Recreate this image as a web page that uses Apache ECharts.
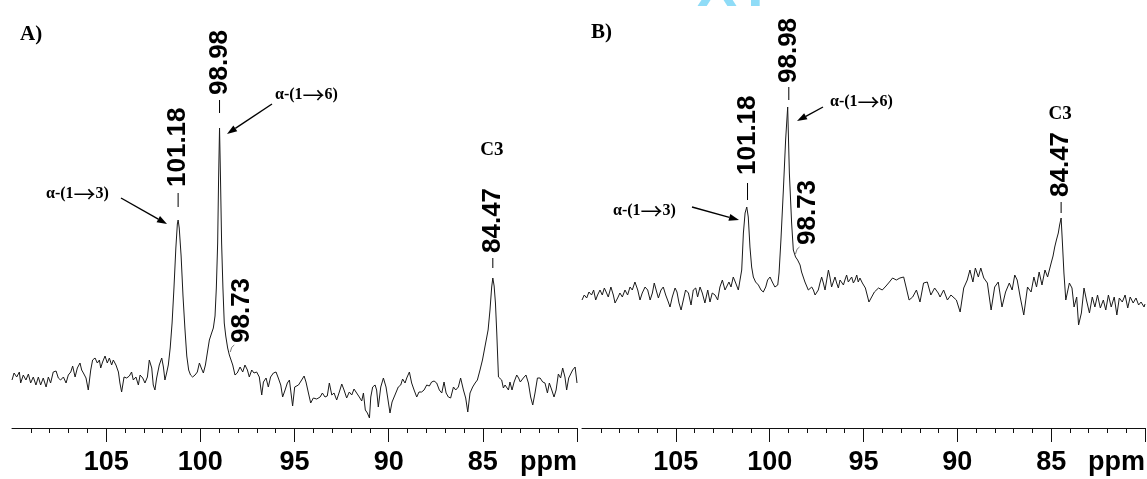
<!DOCTYPE html>
<html><head><meta charset="utf-8">
<script src="https://cdn.jsdelivr.net/npm/echarts@6/dist/echarts.min.js"></script>
<style>html,body{margin:0;padding:0;background:#fff}#c{width:1147px;height:479px}</style>
</head><body><div id="c"></div>
<script>
// ---- Data (ppm vs. signal intensity) ----
const ppmA = [110.00,109.89,109.75,109.61,109.54,109.40,109.26,109.13,109.01,108.87,108.73,108.60,108.48,108.34,108.19,108.07,107.95,107.81,107.66,107.54,107.42,107.27,107.13,107.01,106.88,106.78,106.65,106.53,106.39,106.30,106.21,106.07,105.95,105.82,105.72,105.59,105.47,105.36,105.29,105.19,105.06,104.94,104.83,104.71,104.62,104.48,104.35,104.27,104.18,104.05,103.91,103.77,103.65,103.56,103.42,103.29,103.20,103.06,102.94,102.81,102.71,102.58,102.50,102.41,102.32,102.18,102.05,101.96,101.88,101.79,101.70,101.60,101.50,101.40,101.30,101.22,101.18,101.12,101.02,100.92,100.82,100.72,100.62,100.52,100.41,100.28,100.16,100.05,99.95,99.84,99.73,99.63,99.52,99.40,99.31,99.22,99.15,99.08,99.03,98.98,98.93,98.87,98.80,98.73,98.65,98.55,98.46,98.39,98.28,98.16,98.04,97.89,97.75,97.63,97.50,97.40,97.27,97.15,97.01,96.87,96.74,96.65,96.51,96.39,96.27,96.12,95.98,95.86,95.73,95.63,95.50,95.38,95.27,95.10,94.99,94.79,94.62,94.49,94.39,94.26,94.14,94.00,93.82,93.64,93.52,93.38,93.26,93.15,93.02,92.90,92.76,92.62,92.49,92.37,92.23,92.09,91.96,91.84,91.70,91.56,91.43,91.34,91.24,91.13,91.02,90.95,90.85,90.72,90.64,90.55,90.42,90.28,90.14,90.05,89.93,89.82,89.71,89.61,89.49,89.36,89.26,89.13,89.04,88.90,88.78,88.65,88.51,88.39,88.25,88.12,87.98,87.84,87.72,87.59,87.45,87.31,87.18,87.06,86.95,86.83,86.71,86.56,86.44,86.30,86.18,86.03,85.91,85.80,85.68,85.54,85.41,85.29,85.15,85.02,84.92,84.83,84.72,84.62,84.53,84.47,84.40,84.33,84.26,84.17,84.09,84.00,83.91,83.82,83.73,83.64,83.56,83.45,83.34,83.20,83.10,83.01,82.85,82.71,82.58,82.46,82.35,82.23,82.10,81.96,81.82,81.70,81.57,81.47,81.34,81.22,81.11,80.99,80.87,80.76,80.64,80.55,80.44,80.34,80.23,80.10,80.00];
const intensityA = [48,55,51,56,45,53,48,54,45,51,43,51,43,50,41,51,45,56,57,50,48,51,45,53,56,62,51,60,65,58,55,50,38,58,68,70,65,68,60,66,72,65,70,63,68,63,56,45,36,51,50,52,56,48,51,43,53,50,45,51,68,60,43,38,50,63,70,61,48,55,63,80,105,140,180,204,208,200,172,132,100,72,58,53,51,53,56,65,60,55,63,75,88,95,100,112,140,185,250,300,250,185,140,105,92,80,73,71,63,53,55,61,56,63,58,51,58,55,56,51,33,46,50,41,51,55,56,50,43,31,38,45,48,22,41,43,48,52,46,35,25,30,29,31,35,31,32,45,33,35,28,36,44,38,30,36,33,39,35,31,27,35,18,15,10,31,41,43,38,21,41,50,41,30,15,26,31,30,41,43,49,45,50,56,45,38,31,36,36,38,43,42,46,47,45,38,35,46,35,31,30,41,38,41,50,38,30,16,35,41,45,48,58,68,78,80,98,118,141,150,142,125,95,51,53,48,40,43,45,38,46,38,46,53,50,46,50,53,45,31,23,35,50,50,46,45,35,45,38,31,38,54,50,60,51,38,50,51,58,61,45];
const ppmB = [110.00,109.88,109.75,109.63,109.49,109.38,109.27,109.17,109.04,108.92,108.81,108.69,108.60,108.46,108.33,108.24,108.10,107.98,107.85,107.71,107.57,107.44,107.32,107.18,107.03,106.91,106.79,106.64,106.50,106.37,106.25,106.15,106.02,105.93,105.79,105.67,105.54,105.40,105.31,105.19,105.04,104.94,104.83,104.72,104.60,104.48,104.33,104.19,104.07,103.94,103.84,103.71,103.59,103.45,103.30,103.18,103.06,102.91,102.77,102.65,102.52,102.38,102.29,102.17,102.06,101.94,101.81,101.67,101.58,101.49,101.40,101.31,101.22,101.14,101.05,100.96,100.87,100.75,100.60,100.46,100.34,100.21,100.11,99.98,99.86,99.72,99.57,99.50,99.40,99.27,99.15,99.04,98.95,98.83,98.74,98.69,98.62,98.51,98.38,98.30,98.21,98.12,98.03,97.94,97.85,97.76,97.67,97.58,97.50,97.41,97.32,97.23,97.14,97.05,96.96,96.87,96.79,96.70,96.61,96.52,96.43,96.34,96.25,96.16,96.07,95.99,95.90,95.81,95.72,95.63,95.54,95.45,95.36,95.28,95.19,95.06,94.90,94.71,94.42,94.20,94.00,93.80,93.62,93.45,93.25,93.06,92.86,92.72,92.57,92.38,92.18,91.99,91.80,91.60,91.41,91.21,91.02,90.92,90.73,90.53,90.34,90.05,89.85,89.66,89.47,89.33,89.17,89.04,88.88,88.75,88.59,88.40,88.20,88.01,87.82,87.62,87.43,87.23,87.08,86.94,86.81,86.65,86.46,86.26,86.07,85.92,85.78,85.64,85.49,85.33,85.19,85.00,84.90,84.81,84.72,84.62,84.55,84.47,84.40,84.32,84.22,84.03,83.89,83.78,83.64,83.54,83.39,83.25,83.12,82.96,82.81,82.67,82.53,82.38,82.22,82.09,81.95,81.80,81.64,81.50,81.37,81.21,81.06,80.92,80.79,80.63,80.48,80.34,80.21,80.05,80.00];
const intensityB = [128,133,130,136,133,138,128,133,138,133,140,135,131,141,133,125,130,135,131,138,133,141,138,146,138,128,135,141,138,128,135,145,136,130,138,141,133,126,121,131,140,136,125,118,128,138,135,123,138,140,131,141,135,125,138,126,135,133,128,141,148,138,140,146,141,151,145,138,136,158,195,215,221,211,181,161,151,146,143,138,136,141,148,151,146,141,143,155,188,238,288,321,255,205,178,175,171,168,163,156,151,146,145,138,136,141,138,133,131,138,145,151,145,138,148,158,151,141,146,151,145,140,148,150,143,148,153,146,148,151,145,148,153,146,150,145,140,126,136,140,138,142,146,150,148,150,151,140,128,131,138,126,145,146,133,140,135,131,138,128,133,128,116,140,148,158,146,160,151,160,150,145,118,141,146,121,136,145,138,153,148,131,113,141,136,151,141,156,143,158,151,165,172,181,188,195,203,210,185,155,128,145,140,121,131,103,115,140,128,115,131,121,133,120,128,118,133,121,131,113,130,126,133,120,131,125,130,123,126,121,124];
const majorTicks = [80, 85, 90, 95, 100, 105];
const tickLabels = [85, 90, 95, 100, 105];
const panelTitles = ['A)', 'B)'];
const peakLabels = ['101.18', '98.98', '98.73', '84.47'];
const linkageLabels = ['α-(1→3)', 'α-(1→6)', 'C3'];

// ---- Chart ----
const chart = echarts.init(document.getElementById('c'), null, {renderer: 'canvas'});
const grids = [
  {left: 12, right: 570, top: 28, bottom: 51},
  {left: 582, right: 2, top: 28, bottom: 51}
];
function xAxisCfg(gi) {
  return {
    type: 'value', gridIndex: gi, min: 80, max: 110, interval: 5, inverse: true,
    axisLine: {show: true, onZero: false, lineStyle: {color: '#111', width: 1}},
    axisTick: {show: true, length: 14, lineStyle: {color: '#111', width: 1}, customValues: majorTicks},
    minorTick: {show: true, splitNumber: 5, length: 5, lineStyle: {color: '#111', width: 1}},
    axisLabel: {customValues: tickLabels, color: '#000', fontFamily: 'Liberation Sans', fontWeight: 'bold', fontSize: 27, margin: 21},
    splitLine: {show: false}, minorSplitLine: {show: false}
  };
}
function yAxisCfg(gi) {
  return {type: 'value', gridIndex: gi, min: 0, max: 400, show: false, splitLine: {show: false}};
}
function seriesCfg(gi, xs, ys) {
  return {
    type: 'line', xAxisIndex: gi, yAxisIndex: gi, showSymbol: false, symbol: 'none',
    lineStyle: {color: '#1a1a1a', width: 1}, data: xs.map((x, i) => [x, ys[i]]),
    animation: false, silent: true
  };
}
chart.setOption({
  backgroundColor: '#fff',
  animation: false,
  grid: grids,
  xAxis: [xAxisCfg(0), xAxisCfg(1)],
  yAxis: [yAxisCfg(0), yAxisCfg(1)],
  series: [seriesCfg(0, ppmA, intensityA), seriesCfg(1, ppmB, intensityB)]
});

// ---- Annotations (layout) ----
function px(gi, ppm) { return chart.convertToPixel({gridIndex: gi}, [ppm, 0])[0]; }
const numFont = 'bold 26px "Liberation Sans", Arial, sans-serif';
const serifFont = 'bold 16px "Liberation Serif", "Times New Roman", serif';
const arrowFont = '22px "Noto Sans CJK SC", "DejaVu Sans", sans-serif';
const layout = [
  { gi: 0, title: [20, 35],
    peaks: [ {i: 0, bottom: 187, tick: [193, 207]}, {i: 1, bottom: 95, tick: [100, 113]},
             {i: 3, bottom: 253, tick: [258, 268]}, {i: 2, dx: 18, bottom: 343, leader: true} ],
    arrows: [ {i: 1, tx: 275, ty: 95, from: [272, 104], to: [227, 134]},
              {i: 0, tx: 46, ty: 194, from: [121, 198], to: [167, 224]} ],
    c3: 150 },
  { gi: 1, title: [591, 33],
    peaks: [ {i: 0, bottom: 175, tick: [183, 200]}, {i: 1, bottom: 83, tick: [87, 100]},
             {i: 3, bottom: 197, tick: [202, 213]}, {i: 2, dx: 14, bottom: 245, leader: true} ],
    arrows: [ {i: 1, tx: 830, ty: 102, from: [823, 107], to: [797, 121]},
              {i: 0, tx: 613, ty: 211, from: [692, 207], to: [739, 220]} ],
    c3: 114 }
];
function richLinkage(s) {
  const k = s.indexOf('→');
  if (k < 0) return {text: s};
  return {text: '{a|' + s.slice(0, k) + '}{b|→}{a|' + s.slice(k + 1) + '}',
          rich: {a: {font: serifFont, fill: '#000'}, b: {font: arrowFont, fill: '#000'}}};
}
const g = [];
// watermark fragment at the top
g.push({type: 'text', x: 697, y: 19, style: {text: 'XT', font: 'bold 60px "Liberation Sans", sans-serif', fill: '#8fdcf7', verticalAlign: 'bottom'}});
layout.forEach((L, k) => {
  g.push({type: 'text', x: L.title[0], y: L.title[1], style: {text: panelTitles[k], font: 'bold 21px "Liberation Serif", serif', fill: '#000', verticalAlign: 'middle'}});
  // ppm axis name
  g.push({type: 'text', x: px(L.gi, 80), y: 463, style: {text: 'ppm', font: 'bold 27px "Liberation Sans", sans-serif', fill: '#000', align: 'right', verticalAlign: 'middle'}});
  L.peaks.forEach(p => {
    const label = peakLabels[p.i];
    const x = px(L.gi, parseFloat(label)) + (p.dx || 0);
    g.push({type: 'text', x: x, y: p.bottom, rotation: Math.PI / 2,
      style: {text: label, font: numFont, fill: '#000', align: 'left', verticalAlign: 'middle'}});
    if (p.tick) g.push({type: 'line', shape: {x1: x, y1: p.tick[0], x2: x, y2: p.tick[1]}, style: {stroke: '#000', lineWidth: 1}});
    if (p.leader) g.push({type: 'bezierCurve', shape: {x1: x - 8, y1: p.bottom + 2, cpx1: x - 11, cpy1: p.bottom + 3, x2: x - 12, y2: p.bottom + 9},
      style: {stroke: '#555', lineWidth: 0.8, fill: null}});
  });
  L.arrows.forEach(a => {
    const rl = richLinkage(linkageLabels[a.i]);
    g.push({type: 'text', x: a.tx, y: a.ty, style: Object.assign({font: serifFont, fill: '#000', verticalAlign: 'middle'}, rl)});
    const dx = a.to[0] - a.from[0], dy = a.to[1] - a.from[1], len = Math.hypot(dx, dy);
    const ux = dx / len, uy = dy / len, hl = 10, hw = 3.5;
    const bx = a.to[0] - ux * hl, by = a.to[1] - uy * hl;
    g.push({type: 'line', shape: {x1: a.from[0], y1: a.from[1], x2: bx, y2: by}, style: {stroke: '#000', lineWidth: 1.4}});
    g.push({type: 'polygon', shape: {points: [[a.to[0], a.to[1]], [bx - uy * hw, by + ux * hw], [bx + uy * hw, by - ux * hw]]}, style: {fill: '#000'}});
  });
  g.push({type: 'text', x: px(L.gi, parseFloat(peakLabels[3])) - 1, y: L.c3, style: {text: linkageLabels[2], font: 'bold 19px "Liberation Serif", serif', fill: '#000', align: 'center', verticalAlign: 'middle'}});
});
chart.setOption({graphic: g});
</script>
</body></html>
